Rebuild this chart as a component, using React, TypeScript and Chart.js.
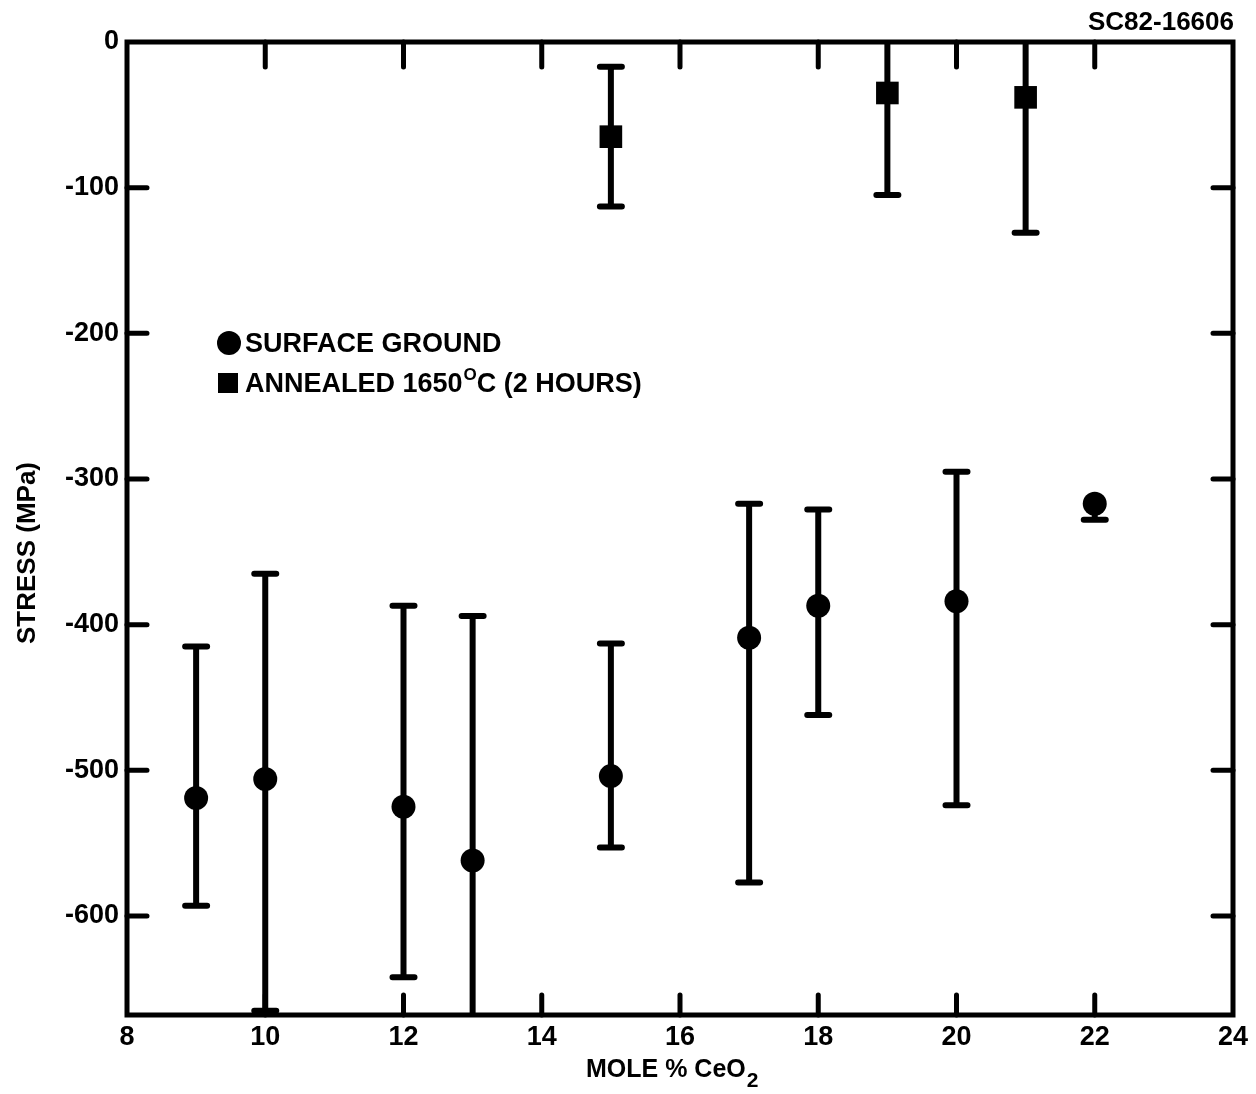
import { useEffect, useRef } from 'react';
import { Chart, registerables } from 'chart.js';

Chart.register(...registerables);

// Surface ground (circles)
const surfaceX = [9, 10, 12, 13, 15, 17, 18, 20, 22];
const surfaceY = [-519, -506, -525, -562, -504, -409, -387, -384, -317];
const surfaceHigh = [-415, -365, -387, -394, -413, -317, -321, -295, -317];
const surfaceLow = [-593, -665, -642, -700, -553, -577, -462, -524, -328];

// Annealed 1650 C (squares)
const annealX = [15, 19, 21];
const annealY = [-65, -35, -38];
const annealHigh = [-17, 20, 20];
const annealLow = [-113, -105, -131];

const xTicks = [8, 10, 12, 14, 16, 18, 20, 22, 24];
const yTicks = [0, -100, -200, -300, -400, -500, -600];

const FONT = '"Liberation Sans", Arial, sans-serif';

const errorBarPlugin = {
  id: 'errorBars',
  beforeDatasetsDraw(chart: any) {
    const { ctx, chartArea, scales } = chart;
    const xs = scales.x;
    const ys = scales.y;
    ctx.save();
    ctx.beginPath();
    ctx.rect(chartArea.left, chartArea.top, chartArea.right - chartArea.left, chartArea.bottom - chartArea.top);
    ctx.clip();
    ctx.strokeStyle = '#000';
    ctx.lineWidth = 6;
    ctx.lineCap = 'round';
    chart.data.datasets.forEach((ds: any) => {
      ds.data.forEach((p: any, i: number) => {
        const x = xs.getPixelForValue(p.x);
        const hi = ds.errHigh[i];
        const lo = ds.errLow[i];
        const yh = ys.getPixelForValue(hi);
        const yl = ys.getPixelForValue(lo);
        ctx.beginPath();
        ctx.moveTo(x, yh);
        ctx.lineTo(x, yl);
        if (hi !== p.y) {
          ctx.moveTo(x - 11, yh);
          ctx.lineTo(x + 11, yh);
        }
        if (lo !== p.y) {
          ctx.moveTo(x - 11, yl);
          ctx.lineTo(x + 11, yl);
        }
        ctx.stroke();
      });
    });
    ctx.restore();
  },
};

const framePlugin = {
  id: 'frame',
  afterDraw(chart: any) {
    const { ctx, chartArea, scales } = chart;
    const { left, right, top, bottom } = chartArea;
    const xs = scales.x;
    const ys = scales.y;
    ctx.save();
    ctx.strokeStyle = '#000';
    ctx.lineWidth = 5;
    ctx.lineCap = 'butt';
    ctx.strokeRect(left, top, right - left, bottom - top);
    ctx.lineCap = 'round';
    ctx.beginPath();
    xTicks.forEach((v) => {
      if (v === xs.min || v === xs.max) return;
      const px = xs.getPixelForValue(v);
      ctx.moveTo(px, bottom);
      ctx.lineTo(px, bottom - 20);
      ctx.moveTo(px, top);
      ctx.lineTo(px, top + 25);
    });
    yTicks.forEach((v) => {
      if (v === ys.max) return;
      const py = ys.getPixelForValue(v);
      ctx.moveTo(left, py);
      ctx.lineTo(left + 20, py);
      ctx.moveTo(right, py);
      ctx.lineTo(right - 20, py);
    });
    ctx.stroke();

    ctx.fillStyle = '#000';
    // Figure id
    ctx.font = `bold 26px ${FONT}`;
    ctx.textAlign = 'right';
    ctx.textBaseline = 'alphabetic';
    ctx.fillText('SC82-16606', 1234, 30);

    // Legend
    ctx.textAlign = 'left';
    ctx.beginPath();
    ctx.arc(229, 343, 12, 0, Math.PI * 2);
    ctx.fill();
    ctx.fillRect(218, 373, 20, 20);
    ctx.font = `bold 27px ${FONT}`;
    ctx.fillText('SURFACE GROUND', 245, 352);
    const t1 = 'ANNEALED 1650';
    ctx.fillText(t1, 245, 392);
    const w = ctx.measureText(t1).width;
    ctx.font = `bold 17px ${FONT}`;
    ctx.fillText('O', 245 + w + 1, 380);
    const w2 = ctx.measureText('O').width;
    ctx.font = `bold 27px ${FONT}`;
    ctx.fillText('C (2 HOURS)', 245 + w + w2 + 1, 392);

    // X axis title
    ctx.font = `bold 25px ${FONT}`;
    const xt = 'MOLE % CeO';
    ctx.fillText(xt, 586, 1077);
    const xw = ctx.measureText(xt).width;
    ctx.font = `bold 21px ${FONT}`;
    ctx.fillText('2', 586 + xw + 1, 1087);

    // Y axis title
    ctx.save();
    ctx.translate(35, 553);
    ctx.rotate(-Math.PI / 2);
    ctx.font = `bold 26px ${FONT}`;
    ctx.textAlign = 'center';
    ctx.fillText('STRESS (MPa)', 0, 0);
    ctx.restore();
    ctx.restore();
  },
};

export default function App() {
  const ref = useRef<HTMLCanvasElement | null>(null);
  useEffect(() => {
    document.body.style.margin = '0';
    const canvas = ref.current;
    if (!canvas) return;
    const chart = new Chart(canvas, {
      type: 'scatter',
      data: {
        datasets: [
          {
            label: 'SURFACE GROUND',
            data: surfaceX.map((x, i) => ({ x, y: surfaceY[i] })),
            errHigh: surfaceHigh,
            errLow: surfaceLow,
            pointStyle: 'circle',
            pointRadius: 12,
            backgroundColor: '#000',
            borderColor: '#000',
            borderWidth: 0,
          } as any,
          {
            label: 'ANNEALED 1650°C (2 HOURS)',
            data: annealX.map((x, i) => ({ x, y: annealY[i] })),
            errHigh: annealHigh,
            errLow: annealLow,
            pointStyle: 'rect',
            pointRadius: 16,
            backgroundColor: '#000',
            borderColor: '#000',
            borderWidth: 0,
          } as any,
        ],
      },
      options: {
        animation: false,
        responsive: false,
        devicePixelRatio: 1,
        layout: { padding: { top: 42, right: 23, left: 0, bottom: 0 } },
        plugins: { legend: { display: false }, tooltip: { enabled: false } },
        scales: {
          x: {
            type: 'linear',
            min: 8,
            max: 24,
            afterBuildTicks: (s: any) => {
              s.ticks = xTicks.map((v) => ({ value: v }));
            },
            afterFit: (s: any) => {
              s.height = 79;
            },
            grid: { display: false, drawTicks: false },
            border: { display: false },
            ticks: {
              autoSkip: false,
              maxRotation: 0,
              padding: 6,
              color: '#000',
              font: { family: FONT, size: 27, weight: 'bold' },
            },
          },
          y: {
            type: 'linear',
            min: -668,
            max: 0,
            afterBuildTicks: (s: any) => {
              s.ticks = yTicks.map((v) => ({ value: v }));
            },
            afterFit: (s: any) => {
              s.width = 127;
            },
            grid: { display: false, drawTicks: false },
            border: { display: false },
            ticks: {
              padding: 8,
              color: '#000',
              font: { family: FONT, size: 27, weight: 'bold' },
            },
          },
        },
      },
      plugins: [errorBarPlugin, framePlugin],
    });
    return () => chart.destroy();
  }, []);
  return (
    <div style={{ position: 'absolute', left: 0, top: 0, width: 1256, height: 1094, background: '#fff' }}>
      <canvas ref={ref} width={1256} height={1094} />
    </div>
  );
}
